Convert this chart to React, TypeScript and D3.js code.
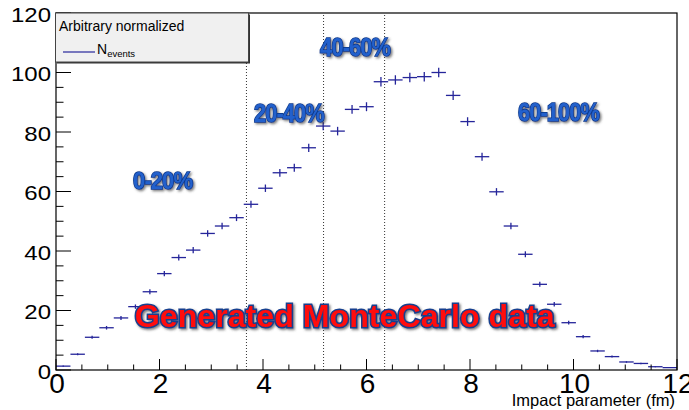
import React from 'react';
import * as d3 from 'd3';

// normalized N_events per impact-parameter bin (43 bins over 0-12 fm)
const counts = [
  1.3, 5.3, 11.0, 14.2, 17.5, 21.3, 26.3, 32.4, 37.8, 40.3,
  45.9, 48.4, 51.2, 55.7, 61.1, 66.3, 68.0, 74.7, 82.0, 80.3,
  87.6, 88.5, 96.9, 97.5, 98.3, 98.6, 100.0, 92.3, 83.5, 71.7,
  59.9, 48.4, 38.9, 28.8, 22.1, 15.9, 11.2, 6.4, 4.5, 2.7,
  2.2, 1.1, 0.8
];
const xRange = [0, 12];
const yRange = [0, 120];
const xMajorTicks = [0, 2, 4, 6, 8, 10, 12];
const yMajorTicks = [0, 20, 40, 60, 80, 100, 120];
const centralityCuts = [3.68, 5.17, 6.35];
const centralityLabels = ['0-20%', '20-40%', '40-60%', '60-100%'];
const centralityLabelX = [2.06, 4.5, 5.78, 9.71];
const centralityLabelY = [60.8, 83.4, 105.5, 83.7];
const title = 'Generated MonteCarlo data';
const xTitle = 'Impact parameter (fm)';
const legendHeader = 'Arbitrary normalized';

// statistical error ~ sqrt(N) for the normalization used
const errScale = 0.16;

const W = 689;
const H = 410;
const m = { l: 56, r: 12, t: 13, b: 40 };

const App = () => {
  const x = d3.scaleLinear().domain(xRange).range([m.l, W - m.r]);
  const y = d3.scaleLinear().domain(yRange).range([H - m.b, m.t]);
  const binW = (xRange[1] - xRange[0]) / counts.length;
  const col = '#25259a';

  const xMinor = d3.range(0, 12.001, 0.5).filter(v => xMajorTicks.indexOf(v) < 0);
  const yMinor = d3.range(0, 120.001, 5).filter(v => yMajorTicks.indexOf(v) < 0);

  const labelLen = [59, 70, 70, 81];
  const labelSize = [23, 25, 25, 25];

  return (
    <svg width={W} height={H} style={{ position: 'absolute', left: 0, top: 0, background: '#fff' }}>
      <defs>
        <filter id="shadow" x="-10%" y="-30%" width="120%" height="160%">
          <feDropShadow dx="1.5" dy="1.5" stdDeviation="1.2" floodColor="#444" floodOpacity="0.7" />
        </filter>
      </defs>

      {/* dotted centrality cuts */}
      {centralityCuts.map((c, i) => (
        <line key={'cut' + i} x1={x(c)} x2={x(c)} y1={y(0)} y2={y(120)}
          stroke="#333" strokeWidth={1} strokeDasharray="1,2" />
      ))}

      {/* histogram points with error bars */}
      <g stroke={col} strokeWidth={1.3}>
        {counts.map((v, i) => {
          const lo = i * binW;
          const cx = x(lo + binW / 2);
          const e = errScale * Math.sqrt(v);
          return (
            <g key={'b' + i}>
              <line x1={x(lo)} x2={x(lo + binW)} y1={y(v)} y2={y(v)} />
              <line x1={cx} x2={cx} y1={y(v - e)} y2={y(v + e)} />
            </g>
          );
        })}
      </g>

      {/* frame */}
      <rect x={m.l} y={m.t} width={W - m.r - m.l} height={H - m.b - m.t}
        fill="none" stroke="#000" strokeWidth={1.2} />

      {/* y axis ticks */}
      <g stroke="#000" strokeWidth={1}>
        {yMajorTicks.map(t => (
          <line key={'ym' + t} x1={m.l} x2={m.l + 15} y1={y(t)} y2={y(t)} />
        ))}
        {yMinor.map(t => (
          <line key={'yn' + t} x1={m.l} x2={m.l + 7.5} y1={y(t)} y2={y(t)} />
        ))}
        {xMajorTicks.map(t => (
          <line key={'xm' + t} x1={x(t)} x2={x(t)} y1={y(0)} y2={y(0) - 11} />
        ))}
        {xMinor.map(t => (
          <line key={'xn' + t} x1={x(t)} x2={x(t)} y1={y(0)} y2={y(0) - 5.5} />
        ))}
      </g>

      {/* tick labels */}
      <g fontFamily="'Liberation Sans', Arial, sans-serif" fill="#000">
        {yMajorTicks.map(t => (
          <text key={'yl' + t} transform={`translate(${m.l - 5},${y(t) + 8.5}) scale(1.2,1)`}
            fontSize={20} textAnchor="end">{t}</text>
        ))}
        {xMajorTicks.map(t => (
          <text key={'xl' + t} x={x(t) + 1} y={393} fontSize={28} textAnchor="middle">{t}</text>
        ))}
        <text x={675} y={406} fontSize={16.5} textAnchor="end">{xTitle}</text>
      </g>

      {/* legend */}
      <g fontFamily="'Liberation Sans', Arial, sans-serif">
        <rect x={m.l + 1} y={m.t + 1.5} width={193} height={49} fill="#333" />
        <rect x={m.l - 0.5} y={m.t} width={193} height={49} fill="#f0f0f0" stroke="#444" strokeWidth={1} />
        <text x={59} y={30.5} fontSize={14} fill="#000">{legendHeader}</text>
        <line x1={63} x2={95} y1={52} y2={52} stroke={col} strokeWidth={1.2} />
        <text x={97} y={53.5} fontSize={14} fill="#000">
          N<tspan fontSize={9.5} dy={3.5}>events</tspan>
        </text>
      </g>

      {/* centrality annotations */}
      <g fontFamily="'Liberation Sans', Arial, sans-serif" fontWeight="bold" filter="url(#shadow)">
        {centralityLabels.map((s, i) => (
          <text key={'cl' + i} x={x(centralityLabelX[i])} y={y(centralityLabelY[i])}
            fontSize={labelSize[i]} textAnchor="middle" textLength={labelLen[i]}
            lengthAdjust="spacingAndGlyphs" fill="#2461cc" stroke="#0d3a8c"
            strokeWidth={1.6} paintOrder="stroke" letterSpacing={-1}>{s}</text>
        ))}
        <text x={x(5.58)} y={y(14.5)} fontSize={32} textAnchor="middle" textLength={420}
          lengthAdjust="spacingAndGlyphs" fill="#ff0a0a" stroke="#17408f"
          strokeWidth={3} paintOrder="stroke">{title}</text>
      </g>
    </svg>
  );
};

export default App;
